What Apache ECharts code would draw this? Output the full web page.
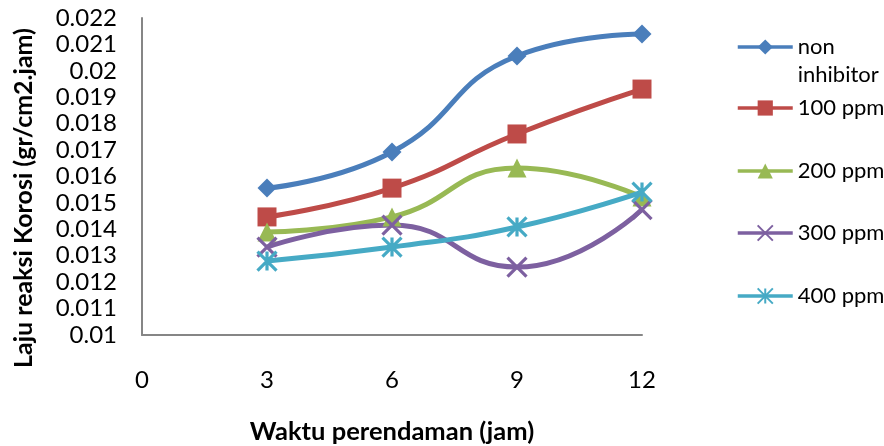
<!DOCTYPE html>
<html>
<head>
<meta charset="utf-8">
<script src="https://cdn.jsdelivr.net/npm/echarts@6/dist/echarts.min.js"></script>
<style>
  html, body { margin: 0; padding: 0; background: #fff; }
  #chart { width: 884px; height: 446px; }
</style>
</head>
<body>
<div id="chart"></div>
<script>
// Soaking time (hours) and corrosion rate per inhibitor concentration
const hours = [3, 6, 9, 12];
const seriesNames = ['non inhibitor', '100 ppm', '200 ppm', '300 ppm', '400 ppm'];
const nonInhibitor = [0.01556, 0.01693, 0.02056, 0.02139];
const ppm100 = [0.01447, 0.01556, 0.01761, 0.01931];
const ppm200 = [0.01390, 0.01447, 0.01632, 0.01522];
const ppm300 = [0.01333, 0.01416, 0.01257, 0.01475];
const ppm400 = [0.01280, 0.01333, 0.01409, 0.01541];
const xTitle = 'Waktu perendaman (jam)';
const yTitle = 'Laju reaksi Korosi (gr/cm2.jam)';

const FONT = 'Lato, "Liberation Sans", sans-serif';
const colors = ['#4A7EBB', '#BE4B48', '#98B954', '#7D60A0', '#46AAC5'];
const symbols = [
  'diamond',
  'rect',
  'triangle',
  'path://M0,0L10,10M10,0L0,10',
  'path://M5,0L5,10M0,0L10,10M10,0L0,10'
];
const symbolSizes = [19, 19, 19, 19, 19];
const allValues = [nonInhibitor, ppm100, ppm200, ppm300, ppm400];
const legendTops = [5, 94, 157, 219, 282];

const series = allValues.map((vals, i) => {
  const stroked = symbols[i].startsWith('path://');
  return {
    name: seriesNames[i],
    type: 'line',
    smooth: 0.5,
    data: hours.map((h, k) => [h, vals[k]]),
    symbol: symbols[i],
    symbolSize: symbolSizes[i],
    showAllSymbol: true,
    lineStyle: { color: colors[i], width: 5 },
    itemStyle: {
      color: colors[i],
      borderColor: colors[i],
      borderWidth: stroked ? 3.2 : 0
    },
    emphasis: { disabled: true }
  };
});

const legends = seriesNames.map((name, i) => ({
  data: [name],
  left: 736,
  top: legendTops[i],
  padding: 0,
  orient: 'vertical',
  itemWidth: 55,
  itemHeight: 19,
  selectedMode: false,
  lineStyle: { width: 3.5 },
  textStyle: { fontFamily: FONT, fontSize: 22, lineHeight: 28, color: '#000' },
  formatter: n => (n === seriesNames[0] ? '\n' + n.replace(' ', '\n') : n)
}));

const chart = echarts.init(document.getElementById('chart'));
chart.setOption({
  animation: false,
  backgroundColor: '#fff',
  grid: { left: 142, right: 242, top: 18, bottom: 111, containLabel: false, outerBoundsMode: 'none' },
  xAxis: {
    type: 'value',
    min: 0,
    max: 12,
    interval: 3,
    axisLine: { show: true, lineStyle: { color: '#868686', width: 2 } },
    axisTick: { show: false },
    splitLine: { show: false },
    axisLabel: { margin: 33, fontFamily: FONT, fontSize: 24, color: '#000' },
    name: xTitle,
    nameLocation: 'middle',
    nameGap: 84,
    nameTextStyle: { fontFamily: FONT, fontSize: 25.5, fontWeight: 'bold', color: '#000' }
  },
  yAxis: {
    type: 'value',
    min: 0.01,
    max: 0.022,
    interval: 0.001,
    axisLine: { show: true, lineStyle: { color: '#868686', width: 2 } },
    axisTick: { show: false },
    splitLine: { show: false },
    axisLabel: {
      margin: 25,
      fontFamily: FONT,
      fontSize: 24,
      color: '#000',
      formatter: v => String(+v.toFixed(3))
    }
  },
  legend: legends,
  graphic: [{
    type: 'text',
    x: 24,
    y: 198,
    rotation: Math.PI / 2,
    style: {
      text: yTitle,
      align: 'center',
      verticalAlign: 'middle',
      fontFamily: FONT,
      fontSize: 25,
      fontWeight: 'bold',
      fill: '#000'
    }
  }],
  series: series
});
</script>
</body>
</html>
